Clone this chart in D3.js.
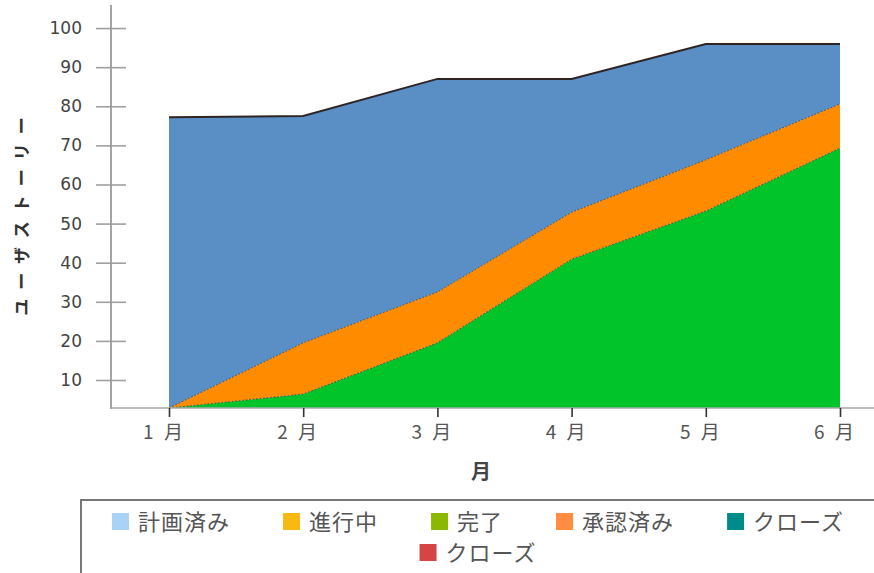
<!DOCTYPE html>
<html><head><meta charset="utf-8">
<script src="https://cdn.jsdelivr.net/npm/d3@7"></script>
<style>body{margin:0;background:#fff;}svg{display:block;}</style>
</head><body>
<svg id="chart" width="874" height="573"></svg>
<script>
// ---- data ----
const months = ["1 月","2 月","3 月","4 月","5 月","6 月"];
const doneVals = [0, 6.4, 19.5, 40.9, 53.2, 69.3];        // green
const progressVals = [0, 13.1, 13.0, 12.0, 13.1, 11.3];   // orange
const plannedVals = [77.2, 58.0, 54.5, 34.1, 29.6, 15.3]; // blue
const closedVals = [0, 0, 0, 0, 0, 0];                    // thin top layer
const yTickVals = [10,20,30,40,50,60,70,80,90,100];
const legendNames = ["計画済み","進行中","完了","承認済み","クローズ","クローズ"];
const legendColors = ["#a8d3f7","#f7b912","#8cb800","#ff8c40","#008b8b","#d64545"];
const areaColors = ["#00c42a","#ff8c00","#5a8fc6","#3a2626"];

const svg = d3.select("#chart");
const x = d3.scalePoint().domain(months).range([169, 840]);
const y = d3.scaleLinear().domain([2.84, 105.9]).range([408, 5]).clamp(true);

const rows = months.map((m,i)=>({m, done:doneVals[i], prog:progressVals[i], plan:plannedVals[i], closed:closedVals[i]}));
const keys = ["done","prog","plan","closed"];
const stacked = d3.stack().keys(keys)(rows);

const area = d3.area().x(d=>x(d.data.m)).y0(d=>y(d[0])).y1(d=>y(d[1]));
const topLine = d3.line().x(d=>x(d.data.m)).y(d=>y(d[1]));

const g = svg.append("g");
stacked.forEach((s,i)=>{
  g.append("path").attr("d", area(s)).attr("fill", areaColors[i]);
});
// boundary lines
stacked.slice(0,2).forEach(s=>{
  g.append("path").attr("d", topLine(s)).attr("fill","none")
   .attr("stroke","#3a3a3a").attr("stroke-width",1).attr("stroke-dasharray","2,1.5").attr("opacity",0.75);
});
g.append("path").attr("d", topLine(stacked[3])).attr("fill","none")
  .attr("stroke","#2e2424").attr("stroke-width",2);

// y axis
const yAxis = svg.append("g").attr("transform","translate(111,0)")
  .call(d3.axisLeft(y).tickValues(yTickVals).tickSize(15).tickPadding(14).tickFormat(d3.format("d")));
yAxis.select(".domain").remove();
yAxis.selectAll(".tick line").attr("x1",-15).attr("x2",15).attr("stroke","#a0a0a0").attr("stroke-width",1.6);
yAxis.selectAll(".tick text").attr("fill","#444").style("font-family","'DejaVu Sans',Verdana,sans-serif").style("font-size","17px");
svg.append("line").attr("x1",111).attr("x2",111).attr("y1",5).attr("y2",409)
  .attr("stroke","#9a9a9a").attr("stroke-width",1.8);

// x axis
svg.append("line").attr("x1",111).attr("x2",874).attr("y1",408).attr("y2",408)
  .attr("stroke","#a8a8a8").attr("stroke-width",1.6);
const xAxis = svg.append("g").attr("transform","translate(0,408)")
  .call(d3.axisBottom(x).tickSize(9).tickPadding(9));
xAxis.select(".domain").remove();
xAxis.selectAll(".tick line").attr("stroke","#333").attr("stroke-width",1.6);
xAxis.selectAll(".tick text").attr("fill","#555").attr("dx",-5)
  .style("font-family","'Noto Sans CJK JP',sans-serif").style("font-size","19px").style("letter-spacing","3px");

// axis titles
svg.append("text").attr("x",481).attr("y",479).attr("text-anchor","middle")
  .attr("fill","#444").style("font-family","'Noto Sans CJK JP',sans-serif")
  .style("font-size","20px").style("font-weight","bold").text("月");
svg.append("text").attr("transform","translate(28,212) rotate(-90)").attr("text-anchor","middle")
  .attr("fill","#333").style("font-family","'Noto Sans CJK JP',sans-serif")
  .style("font-size","17px").style("font-weight","bold").style("letter-spacing","9px").text("ユーザストーリー");

// legend
svg.append("rect").attr("x",81).attr("y",500).attr("width",820).attr("height",100)
  .attr("fill","#fff").attr("stroke","#6a6a6a").attr("stroke-width",1.8);
const lg = svg.append("g");
const items = legendNames.map((n,i)=>{
  const it = lg.append("g");
  it.append("rect").attr("width",17).attr("height",17).attr("y",-9).attr("fill",legendColors[i]);
  const t = it.append("text").attr("x",26).attr("y",0).attr("dy","0.36em").attr("fill","#555")
    .style("font-family","'Noto Sans CJK JP',sans-serif").style("font-size","22px").style("letter-spacing","1px").text(n);
  return {it, w: 26 + t.node().getComputedTextLength()};
});
const gap = 53, maxW = 760, center = 478;
let rowsL = [[]], rw = 0;
items.forEach(o=>{
  const add = (rowsL[rowsL.length-1].length? gap:0) + o.w;
  if (rw + add > maxW && rowsL[rowsL.length-1].length) { rowsL.push([o]); rw = o.w; }
  else { rowsL[rowsL.length-1].push(o); rw += add; }
});
rowsL.forEach((r,ri)=>{
  const tot = d3.sum(r,o=>o.w) + gap*(r.length-1);
  let cx = center - tot/2;
  r.forEach(o=>{ o.it.attr("transform",`translate(${cx},${522 + ri*31})`); cx += o.w + gap; });
});
</script>
</body></html>
